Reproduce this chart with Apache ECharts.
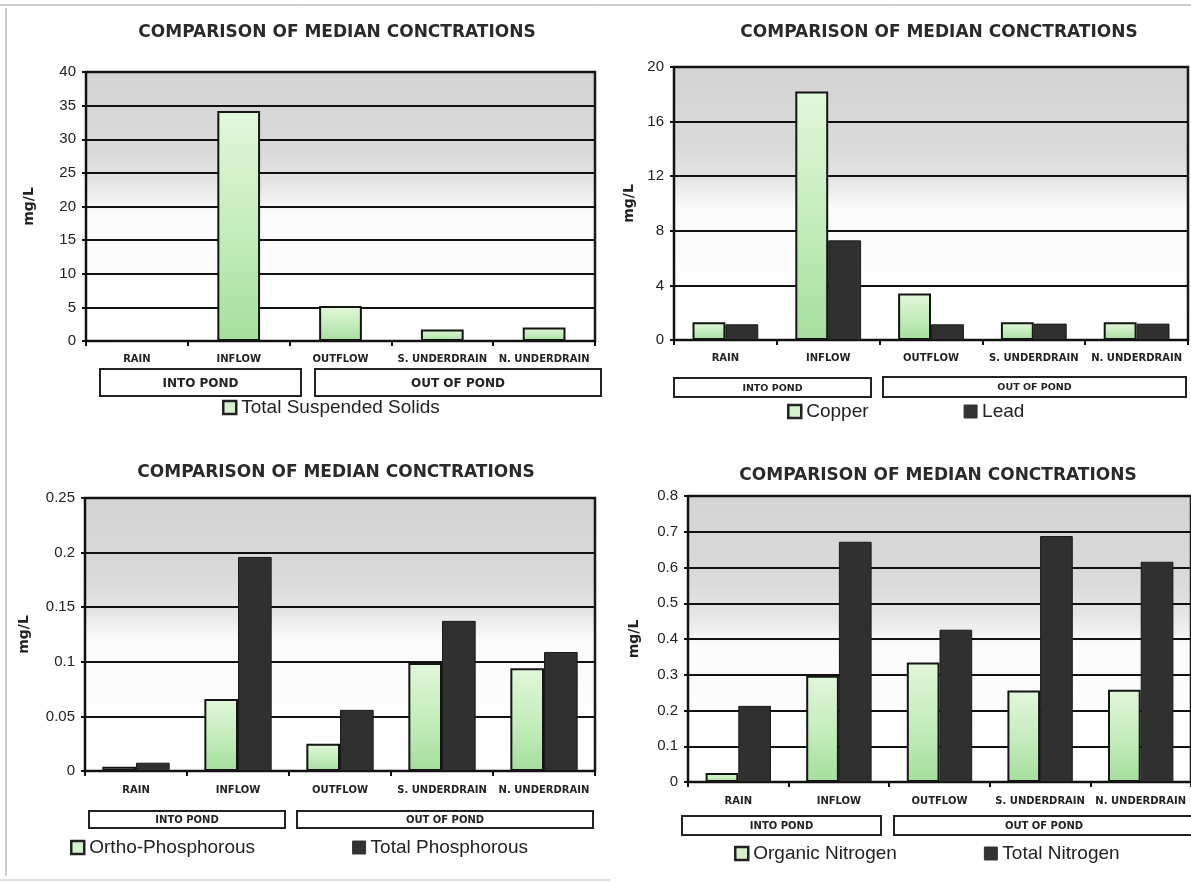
<!DOCTYPE html>
<html>
<head>
<meta charset="utf-8">
<script src="https://cdn.jsdelivr.net/npm/echarts@6/dist/echarts.min.js"></script>
<style>
  html, body { margin: 0; padding: 0; background: #fff; }
  #main { width: 1191px; height: 882px; }
</style>
</head>
<body>
<div id="main"></div>
<script>
// categories and groups
const categories = ['RAIN', 'INFLOW', 'OUTFLOW', 'S. UNDERDRAIN', 'N. UNDERDRAIN'];
const groupLabels = ['INTO POND', 'OUT OF POND'];
const chartTitle = 'COMPARISON OF MEDIAN CONCTRATIONS';
const unitName = 'mg/L';

// series values (mg/L)
const tss = [0, 34.2, 5.2, 1.7, 2.0];
const copper = [1.3, 18.2, 3.4, 1.3, 1.3];
const lead = [1.15, 7.3, 1.15, 1.2, 1.2];
const orthoP = [0.004, 0.066, 0.025, 0.099, 0.094];
const totalP = [0.0076, 0.196, 0.056, 0.1375, 0.109];
const organicN = [0.025, 0.297, 0.334, 0.256, 0.258];
const totalN = [0.213, 0.672, 0.426, 0.688, 0.616];

// y tick labels
const tssTicks = [0, 5, 10, 15, 20, 25, 30, 35, 40];
const metalTicks = [0, 4, 8, 12, 16, 20];
const phosTicks = [0, 0.05, 0.1, 0.15, 0.2, 0.25];
const nitroTicks = [0, 0.1, 0.2, 0.3, 0.4, 0.5, 0.6, 0.7, 0.8];

const GREEN = new echarts.graphic.LinearGradient(0, 0, 0, 1, [
  { offset: 0, color: '#e2f7da' },
  { offset: 0.5, color: '#c6edbe' },
  { offset: 1, color: '#a6de9e' }
]);
const DARK = '#303030';
const PLOT_BG = new echarts.graphic.LinearGradient(0, 0, 0, 1, [
  { offset: 0, color: '#d3d3d3' },
  { offset: 0.3, color: '#dadada' },
  { offset: 0.42, color: '#e6e6e6' },
  { offset: 0.52, color: '#fbfbfb' },
  { offset: 1, color: '#ffffff' }
]);

const grids = [
  { left: 86, top: 72, width: 509, height: 269 },
  { left: 674, top: 67, width: 514, height: 273 },
  { left: 85, top: 498, width: 510, height: 273 },
  { left: 688, top: 496, width: 508, height: 286 }
];
const tickSets = [tssTicks, metalTicks, phosTicks, nitroTicks];
const nameGaps = [50, 38, 54, 47];
const labelMargins = [13, 13, 14, 14];

const myChart = echarts.init(document.getElementById('main'));

const xAxis = grids.map(function (g, i) {
  return {
    type: 'category',
    gridIndex: i,
    data: categories,
    axisLine: { lineStyle: { color: '#111', width: 2 } },
    axisTick: { show: true, length: 5, interval: 0, lineStyle: { color: '#111', width: 2 } },
    axisLabel: {
      interval: 0,
      margin: labelMargins[i],
      color: '#222',
      fontFamily: 'DejaVu Sans',
      fontWeight: 'bold',
      fontSize: 10
    },
    splitLine: { show: false }
  };
});

const yAxis = grids.map(function (g, i) {
  const t = tickSets[i];
  return {
    type: 'value',
    gridIndex: i,
    min: t[0],
    max: t[t.length - 1],
    interval: t[1] - t[0],
    name: unitName,
    nameLocation: 'middle',
    nameGap: nameGaps[i],
    nameTextStyle: { fontFamily: 'DejaVu Sans', fontWeight: 'bold', fontSize: 14, color: '#222' },
    axisLine: { show: true, lineStyle: { color: '#111', width: 2 } },
    axisTick: { show: true, length: 4, lineStyle: { color: '#111', width: 2 } },
    axisLabel: {
      margin: 10,
      color: '#222',
      fontFamily: 'Liberation Sans',
      fontSize: 15
    },
    splitLine: { show: true, lineStyle: { color: '#111', width: 2 } }
  };
});

function greenBar(name, data, idx) {
  return {
    name: name, type: 'bar', data: data,
    xAxisIndex: idx, yAxisIndex: idx,
    itemStyle: { color: GREEN, borderColor: '#151515', borderWidth: 2 }
  };
}
function darkBar(name, data, idx) {
  return {
    name: name, type: 'bar', data: data,
    xAxisIndex: idx, yAxisIndex: idx,
    itemStyle: { color: DARK, borderColor: '#1a1a1a', borderWidth: 1 }
  };
}

const series = [
  Object.assign(greenBar('Total Suspended Solids', tss, 0), { barWidth: '42%' }),
  Object.assign(greenBar('Copper', copper, 1), { barGap: '0%', barCategoryGap: '36%' }),
  Object.assign(darkBar('Lead', lead, 1), { barGap: '0%', barCategoryGap: '36%' }),
  Object.assign(greenBar('Ortho-Phosphorous', orthoP, 2), { barGap: '0%', barCategoryGap: '34%' }),
  Object.assign(darkBar('Total Phosphorous', totalP, 2), { barGap: '0%', barCategoryGap: '34%' }),
  Object.assign(greenBar('Organic Nitrogen', organicN, 3), { barGap: '0%', barCategoryGap: '35%' }),
  Object.assign(darkBar('Total Nitrogen', totalN, 3), { barGap: '0%', barCategoryGap: '35%' })
];

const legendText = { fontFamily: 'Liberation Sans', fontSize: 19, color: '#222' };
const greenIcon = { color: '#d4f0cc', borderColor: '#222', borderWidth: 2.5 };
const darkIcon = { color: '#333', borderColor: '#333', borderWidth: 1 };
function legend(items, left, top, gap) {
  return {
    left: left, top: top, orient: 'horizontal', padding: 0,
    icon: 'rect',
    itemWidth: 13, itemHeight: 13, itemGap: gap,
    textStyle: legendText,
    selectedMode: false,
    data: items
  };
}

// group boxes under the category axis
function groupBoxes(boxes, fontSize) {
  const out = [];
  boxes.forEach(function (b, k) {
    out.push({
      type: 'rect',
      shape: { x: b[0], y: b[1], width: b[2], height: b[3] },
      style: { fill: '#fff', stroke: '#222', lineWidth: 2 }
    });
    out.push({
      type: 'text',
      style: {
        text: groupLabels[k],
        x: b[0] + b[2] / 2, y: b[1] + b[3] / 2 + 1,
        align: 'center', verticalAlign: 'middle',
        font: 'bold ' + fontSize + 'px "DejaVu Sans"', fill: '#222'
      }
    });
  });
  return out;
}
function titleText(x, y) {
  return {
    type: 'text',
    style: {
      text: chartTitle, x: x, y: y, align: 'center', verticalAlign: 'middle',
      font: 'bold 17px "DejaVu Sans"', fill: '#2a2a2a'
    }
  };
}

const graphic = [].concat(
  [
    { type: 'line', shape: { x1: 0, y1: 5, x2: 1191, y2: 5 }, style: { stroke: '#999', lineWidth: 1 } },
    { type: 'line', shape: { x1: 6, y1: 8, x2: 6, y2: 876 }, style: { stroke: '#999', lineWidth: 1 } },
    { type: 'line', shape: { x1: 0, y1: 880, x2: 610, y2: 880 }, style: { stroke: '#bbb', lineWidth: 1 } },
    titleText(337, 33), titleText(939, 33), titleText(336, 473), titleText(938, 476)
  ],
  groupBoxes([[100, 369, 201, 27], [315, 369, 286, 27]], 12),
  groupBoxes([[674, 378, 197, 19], [883, 377, 303, 20]], 9.5),
  groupBoxes([[89, 811, 196, 17], [297, 811, 296, 17]], 10),
  groupBoxes([[682, 816, 199, 19], [894, 816, 300, 19]], 10)
);

const option = {
  backgroundColor: '#fff',
  animation: false,
  grid: grids.map(function (g) {
    return Object.assign({
      show: true,
      backgroundColor: PLOT_BG,
      borderColor: '#1a1a1a',
      borderWidth: 2.5,
      containLabel: false
    }, g);
  }),
  xAxis: xAxis,
  yAxis: yAxis,
  legend: [
    legend([{ name: 'Total Suspended Solids', itemStyle: greenIcon }], 222, 398, 10),
    legend([{ name: 'Copper', itemStyle: greenIcon }, { name: 'Lead', itemStyle: darkIcon }], 787, 402, 95),
    legend([{ name: 'Ortho-Phosphorous', itemStyle: greenIcon }, { name: 'Total Phosphorous', itemStyle: darkIcon }], 70, 838, 97),
    legend([{ name: 'Organic Nitrogen', itemStyle: greenIcon }, { name: 'Total Nitrogen', itemStyle: darkIcon }], 734, 844, 87)
  ],
  graphic: graphic,
  series: series
};

myChart.setOption(option);
</script>
</body>
</html>
